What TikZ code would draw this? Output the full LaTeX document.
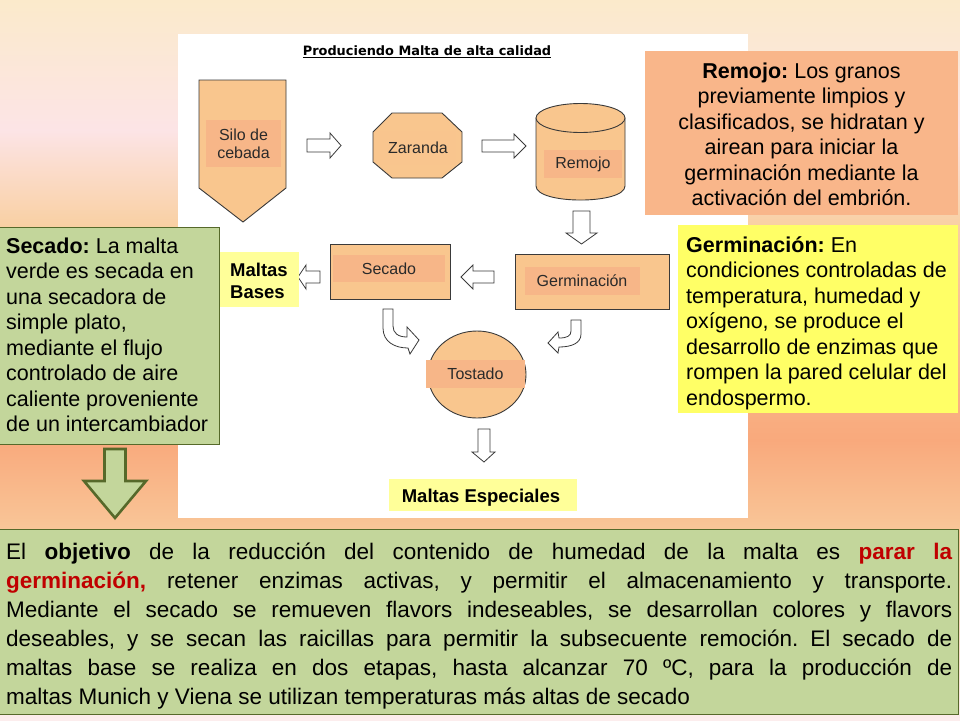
\documentclass[tikz,border=0pt]{standalone}
\usepackage{fontspec}
\setmainfont{Liberation Sans}
\newfontfamily\titlefont{DejaVu Sans}
\frenchspacing
\definecolor{bgA}{HTML}{FBEACB}
\definecolor{bgB}{HTML}{FCE4E6}
\definecolor{bgC}{HTML}{F9D0A3}
\definecolor{bgD}{HTML}{F9A97C}
\definecolor{bgE}{HTML}{F9C597}
\definecolor{bgF}{HTML}{FCEDED}
\definecolor{shp}{HTML}{F9C68E}
\definecolor{shplbl}{HTML}{F7B688}
\definecolor{ol}{HTML}{3A3A3A}
\definecolor{lbltxt}{HTML}{2A2A2A}
\definecolor{remojo}{HTML}{F9B68A}
\definecolor{germ}{HTML}{FFFF66}
\definecolor{lyel}{HTML}{FFFF99}
\definecolor{grn}{HTML}{C3D69B}
\definecolor{grnol}{HTML}{56692A}
\definecolor{redt}{HTML}{C00000}
\begin{document}
\begin{tikzpicture}[x=1pt,y=-1pt,
  shapebox/.style={fill=shp,draw=ol,line width=0.9pt},
  blockarrow/.style={fill=white,draw=ol,line width=0.8pt},
  lbl/.style={font=\fontsize{16}{18}\selectfont,text=lbltxt,inner sep=0pt,align=center},
  sidetext/.style={font=\fontsize{21.5}{25.5}\selectfont,inner sep=0pt,anchor=base},
  boldlbl/.style={font=\bfseries\fontsize{18.5}{22}\selectfont,inner sep=0pt}]
\useasboundingbox (0,0) rectangle (960,720);
% background
\shade[top color=bgA,bottom color=bgB] (0,0) rectangle (960,131);
\shade[top color=bgB,bottom color=bgC] (0,130) rectangle (960,226);
\shade[top color=bgC,bottom color=bgD] (0,225) rectangle (960,441);
\shade[top color=bgD,bottom color=bgE] (0,440) rectangle (960,526);
\shade[top color=bgE,bottom color=bgF] (0,525) rectangle (960,720);
% white panel
\fill[white] (178,34) rectangle (748,518);
% title
\node[font=\titlefont\bfseries\fontsize{12.9}{15}\selectfont,inner sep=0pt] (title) at (427,52) {\underline{Produciendo Malta de alta calidad}};
% Silo
\path[shapebox] (199,80) -- (286,80) -- (286,188) -- (243,222) -- (199,188) -- cycle;
\node[lbl,fill=shplbl,minimum width=75pt,minimum height=47pt] (silo) at (243.5,143.5) {Silo de\\[0pt]cebada};
% Zaranda
\path[shapebox] (392,113) -- (442,113) -- (462,132) -- (462,162) -- (442,178) -- (392,178) -- (373,162) -- (373,132) -- cycle;
\node[lbl,fill=shp!92!shplbl,minimum width=76pt,minimum height=34pt] (zaranda) at (418,148) {Zaranda};
% Remojo cylinder
\path[shapebox] (536,118) -- (536,186) .. controls (536,204.7) and (625,204.7) .. (625,186) -- (625,118) -- cycle;
\path[shapebox] (580.5,118) ellipse [x radius=44.5, y radius=14.5];
\node[lbl,fill=shplbl,minimum width=78pt,minimum height=28pt] (remojo) at (583,164) {Remojo};
% Germinacion
\path[shapebox] (515,254) rectangle (669,309);
\node[lbl,fill=shplbl,minimum width=115pt,minimum height=28pt] (germ) at (582,281) {Germinación};
% Secado
\path[shapebox] (330,244) rectangle (450,299);
\node[lbl,fill=shplbl,minimum width=112pt,minimum height=27pt] (secado) at (389,268.5) {Secado};
% Tostado
\path[shapebox] (477,374.5) ellipse [x radius=49, y radius=43.5];
\node[lbl,fill=shplbl,minimum width=99pt,minimum height=28pt] (tostado) at (475.5,374) {Tostado};
% block arrows
\path[blockarrow] (307,139) -- (330,139) -- (330,133) -- (341,145.5) -- (330,158) -- (330,152) -- (307,152) -- cycle;
\path[blockarrow] (482,140) -- (514,140) -- (514,134) -- (526,146) -- (514,158) -- (514,152) -- (482,152) -- cycle;
\path[blockarrow] (573,211) -- (590,211) -- (590,233) -- (597,233) -- (581.5,244) -- (566,233) -- (573,233) -- cycle;
\path[blockarrow] (494,271) -- (473,271) -- (473,265) -- (461,277) -- (473,289) -- (473,283) -- (494,283) -- cycle;
\path[blockarrow] (320,271) -- (306,271) -- (306,265) -- (298,277) -- (306,289) -- (306,283) -- (320,283) -- cycle;
\path[blockarrow] (478,429) -- (490,429) -- (490,452) -- (495,452) -- (484,462) -- (472,452) -- (478,452) -- cycle;
\path[blockarrow] (383,309) -- (383,328) .. controls (383,342) and (395,348) .. (408,348) -- (410,354) -- (419,340) -- (407,327) -- (407,337) .. controls (398,337) and (393,333) .. (393,326) -- (393,309) -- cycle;
\path[blockarrow] (571,320) -- (581,320) -- (581,334) .. controls (581,343) and (572,347) .. (559,347) -- (558,353) -- (548,343) -- (558,332) -- (559,338) .. controls (567,338) and (571,336) .. (571,331) -- cycle;
% Maltas Bases
\fill[lyel] (220,252) rectangle (299,307);
\node[boldlbl,anchor=base west] (bases) at (230,276) {\parbox[t]{70pt}{\raggedright Maltas\\Bases}};
% Maltas Especiales
\fill[lyel] (389,479) rectangle (577,511);
\node[boldlbl,anchor=base] (especiales) at (481,502) {Maltas Especiales};
% Remojo text box
\fill[remojo] (645,51) rectangle (958,215);
\node[sidetext] (remojotxt) at (801.5,78) {\parbox[t]{310pt}{\centering\textbf{Remojo:} Los granos\\previamente limpios y\\clasificados, se hidratan y\\airean para iniciar la\\germinación mediante la\\activación del embrión.}};
% Germinacion text box
\fill[germ] (678,225) rectangle (958,413);
\node[sidetext,anchor=base west] (germtxt) at (686,252) {\parbox[t]{270pt}{\raggedright\textbf{Germinación:} En\\condiciones controladas de\\temperatura, humedad y\\oxígeno, se produce el\\desarrollo de enzimas que\\rompen la pared celular del\\endospermo.}};
% Secado text box
\path[fill=grn,draw=grnol,line width=0.8pt] (-1,227) rectangle (219,444);
\node[sidetext,anchor=base west] (secadotxt) at (6,253) {\parbox[t]{210pt}{\raggedright\textbf{Secado:} La malta\\verde es secada en\\una secadora de\\simple plato,\\mediante el flujo\\controlado de aire\\caliente proveniente\\de un intercambiador}};
% green arrow
\path[fill=grn,draw=grnol,line width=2.6pt,line join=miter] (104.5,449) -- (125.5,449) -- (125.5,481) -- (146,481) -- (115,518) -- (84,481) -- (104.5,481) -- cycle;
% bottom text box
\path[fill=grn,draw=grnol,line width=0.8pt] (-1,529) rectangle (958,714);
\node[inner sep=0pt,anchor=base west,font=\fontsize{22.5}{29}\selectfont] (bottomtxt) at (6,559) {\parbox[t]{946pt}{\tolerance=10000\hyphenpenalty=10000
El \textbf{objetivo} de la reducción del contenido de humedad de la malta es \textcolor{redt}{\textbf{parar la}}\linebreak
\textcolor{redt}{\textbf{germinación,}} retener enzimas activas, y permitir el almacenamiento y transporte.\linebreak
Mediante el secado se remueven flavors indeseables, se desarrollan colores y flavors\linebreak
deseables, y se secan las raicillas para permitir la subsecuente remoción. El secado de\linebreak
maltas base se realiza en dos etapas, hasta alcanzar 70 ºC, para la producción de\linebreak
maltas Munich y Viena se utilizan temperaturas más altas de secado}};
\end{tikzpicture}
\end{document}
